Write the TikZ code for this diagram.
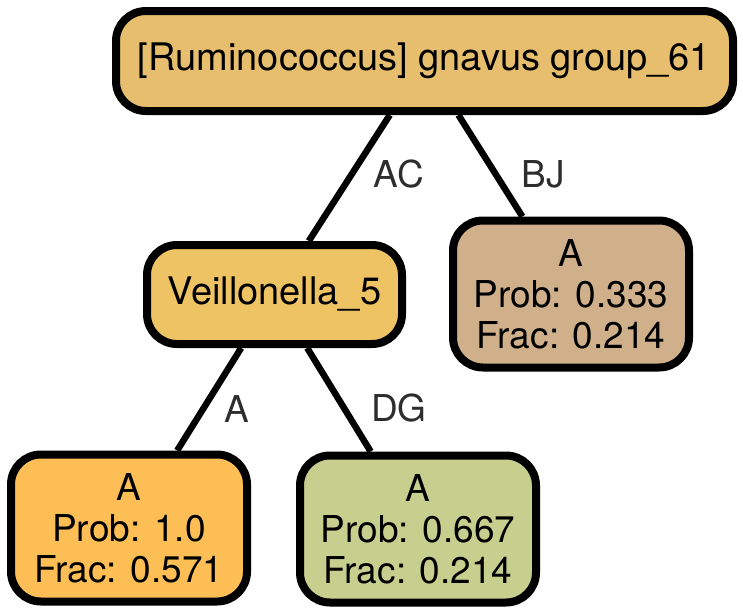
\documentclass[tikz,border=0pt]{standalone}
\usepackage{fontspec}
\setmainfont{TeX Gyre Heros}
\usepackage{tikz}
\usetikzlibrary{positioning}
\definecolor{rootfill}{RGB}{230,190,110}
\definecolor{veilfill}{RGB}{237,195,100}
\definecolor{bjfill}{RGB}{207,176,139}
\definecolor{afill}{RGB}{253,190,85}
\definecolor{dgfill}{RGB}{198,207,142}
\definecolor{lbldark}{RGB}{45,45,45}
\tikzset{
  split/.style={rectangle, draw=black, rounded corners=30pt,
    line width=8pt, inner sep=0pt, minimum height=100pt,
    font=\fontsize{38}{41}\selectfont},
  leaf/.style={rectangle, draw=black, rounded corners=30pt,
    line width=8pt, inner sep=0pt, minimum width=236pt, minimum height=147pt,
    align=center, font=\fontsize{37}{41}\selectfont},
  edge/.style={line width=6.5pt, color=black},
  elabel/.style={text=lbldark, inner sep=0pt,
    font=\fontsize{37}{41}\selectfont}
}

\begin{document}
\begin{tikzpicture}[x=1pt, y=-1pt]
  \useasboundingbox (0,0) rectangle (743,613);

  % Split nodes
  \node[split, fill=rootfill, minimum width=617pt] (root) at (424.5,61) {[Ruminococcus] gnavus group\_61};
  \node[split, fill=veilfill, minimum width=255pt, minimum height=99pt] (veil) at (274.5,294.5) {Veillonella\_5};

  % Leaves
  \node[leaf, fill=bjfill] (leafbj) at (571,294) {A\\Prob: 0.333\\Frac: 0.214};
  \node[leaf, fill=afill] (leafa) at (129,528) {A\\Prob: 1.0\\Frac: 0.571};
  \node[leaf, fill=dgfill] (leafdg) at (418,529) {A\\Prob: 0.667\\Frac: 0.214};

  % Edges
  \draw[edge] (root) -- (veil);
  \draw[edge] (root) -- (leafbj);
  \draw[edge] (veil) -- (leafa);
  \draw[edge] (veil) -- (leafdg);

  % Edge labels
  \node[elabel] (lblac) at (399,174) {AC};
  \node[elabel] (lblbj) at (543,174) {BJ};
  \node[elabel] (lbla) at (237,409) {A};
  \node[elabel] (lbldg) at (399,408) {DG};
\end{tikzpicture}
\end{document}
